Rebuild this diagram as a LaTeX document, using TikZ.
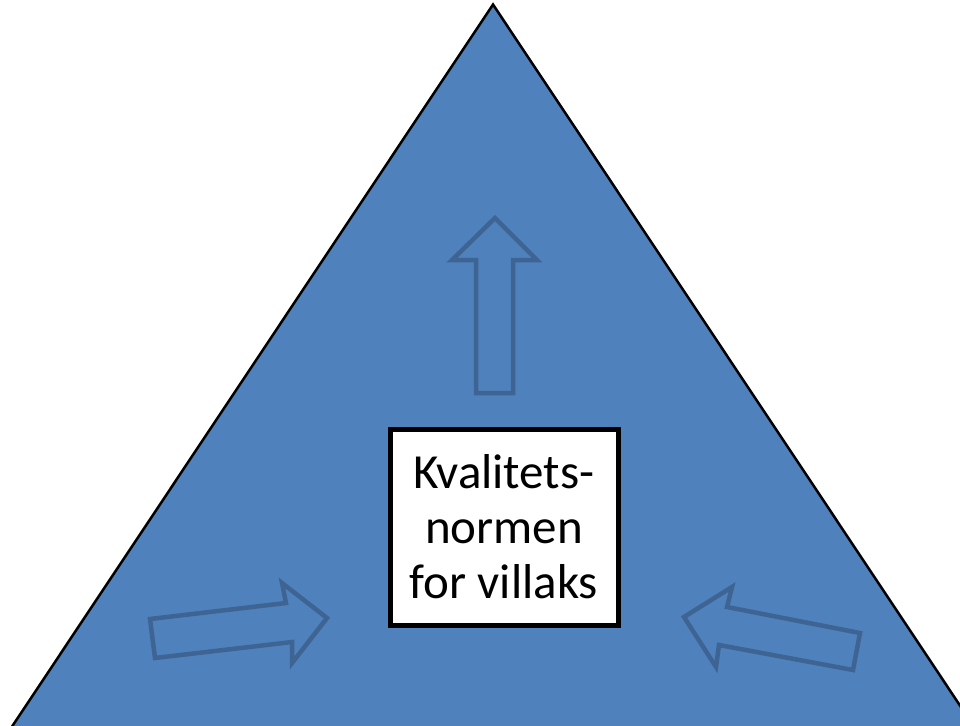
\documentclass[tikz,border=0pt]{standalone}
\usepackage{fontspec}
\setmainfont{Carlito}
\definecolor{triblue}{HTML}{4F81BD}
\definecolor{arrowline}{RGB}{62,100,148}
\tikzset{
  tri/.style={fill=triblue,draw=black,line width=2.5pt,line join=miter},
  blockarrow/.style={draw=arrowline,line width=4.5pt,line join=miter,fill=triblue},
  centerbox/.style={draw=black,fill=white,line width=5pt,minimum width=228pt,minimum height=196pt,align=center,inner sep=0pt,font=\fontsize{49}{55}\selectfont}
}
\begin{document}
\begin{tikzpicture}[x=1pt,y=-1pt]
\useasboundingbox (0,0) rectangle (960,725);
\begin{scope}
\clip (0,0) rectangle (960,725);
\coordinate (apex) at (493,4.5);
\coordinate (bl) at (9.7,730);
\coordinate (br) at (976.3,730);
\draw[tri] (apex) -- (br) -- (bl) -- cycle;
\end{scope}
% up arrow
\draw[blockarrow] (495,218) -- (537,260) -- (513,260) -- (513,393) -- (476,393) -- (476,260) -- (452,260) -- cycle;
% left arrow (pointing right)
\draw[blockarrow] (327,618) -- (292,663) -- (292,642) -- (155,658) -- (150,619) -- (286,603) -- (282,583) -- cycle;
% right arrow (pointing left)
\draw[blockarrow] (684,617) -- (732,587) -- (727,607) -- (860,633) -- (853,670) -- (719,645) -- (716,667) -- cycle;
\node[centerbox] (box) at (504,527) {Kvalitets-\\normen\\for villaks};
\end{tikzpicture}
\end{document}
